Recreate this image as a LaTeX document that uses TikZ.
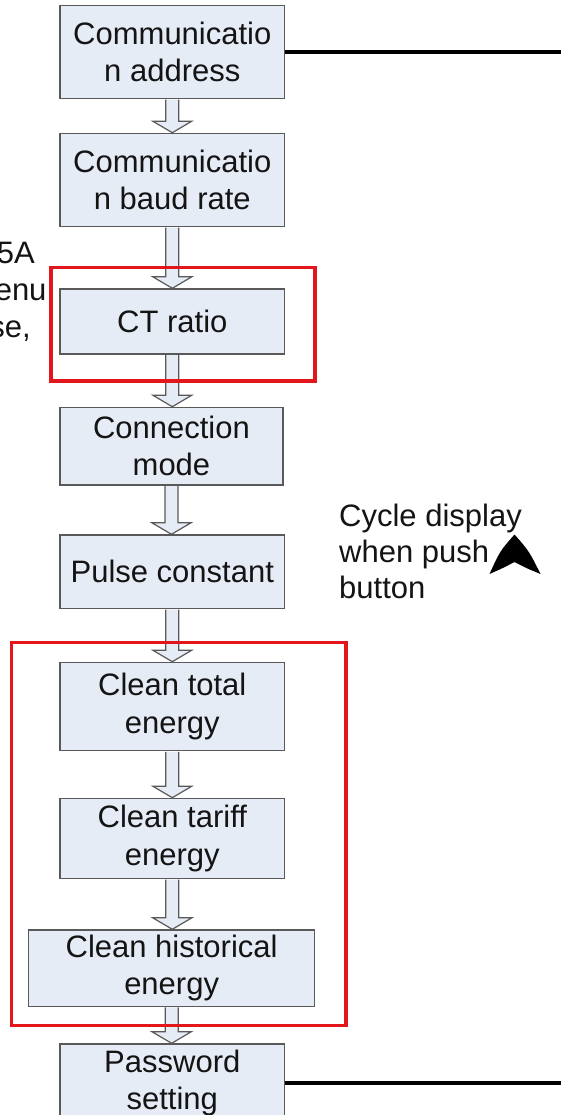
\documentclass[tikz,border=0pt]{standalone}
\usepackage{fontspec}
\setmainfont{Liberation Sans}
\usetikzlibrary{calc}
\definecolor{boxfill}{HTML}{E6ECF6}
\definecolor{boxline}{HTML}{595959}
\definecolor{redline}{HTML}{E3161C}
\definecolor{txt}{HTML}{141414}
\newcommand{\blockarr}[2]{%
  \draw[arrowstyle] let \p1=(#1.south), \p2=(#2.north) in
    (\x1-6.5pt,\y1-0.6pt) -- (\x1-6.5pt,\y2+11.5pt) -- (\x1-19.5pt,\y2+11.5pt)
    -- (\x1,\y2) -- (\x1+19.5pt,\y2+11.5pt) -- (\x1+6.5pt,\y2+11.5pt)
    -- (\x1+6.5pt,\y1-0.6pt);}
\begin{document}
\begin{tikzpicture}[x=1pt,y=-1pt,
  stepbox/.style={draw=boxline, fill=boxfill, line width=1.3pt, anchor=north west,
    inner sep=0pt, align=center, text=txt, font=\fontsize{31}{37.5}\selectfont},
  arrowstyle/.style={draw=boxline, fill=boxfill, line width=1.2pt, line join=miter},
  redbox/.style={draw=redline, line width=3.5pt},
  blackline/.style={draw=black, line width=3.5pt},
  plain/.style={inner sep=0pt, text=txt, font=\fontsize{31}{37.5}\selectfont}]
\useasboundingbox (0,0) rectangle (561,1115);
\clip (0,0) rectangle (561,1115);
\fill[white] (0,0) rectangle (561,1115);
\coordinate (rightedge) at (561,0);

\node[stepbox, minimum width=224.7pt, minimum height=92.7pt] (n1) at (59.3,5) {Communicatio\\n address};
\node[stepbox, minimum width=224.7pt, minimum height=93pt] (n2) at (59.3,132.7) {Communicatio\\n baud rate};
\node[stepbox, minimum width=224.7pt, minimum height=65pt] (n3) at (59.3,288.3) {CT ratio};
\node[stepbox, minimum width=223pt, minimum height=77.6pt] (n4) at (59.3,406.7) {Connection\\mode};
\node[stepbox, minimum width=224.7pt, minimum height=73.4pt] (n5) at (59.3,534.3) {Pulse constant};
\node[stepbox, minimum width=224.7pt, minimum height=88.3pt] (n6) at (59.3,661.7) {Clean total\\energy};
\node[stepbox, minimum width=224.7pt, minimum height=80pt] (n7) at (59.3,797.7) {Clean tariff\\energy};
\node[stepbox, minimum width=286pt, minimum height=76.2pt] (n8) at (28,929.3) {Clean historical\\energy};
\node[stepbox, minimum width=224.7pt, minimum height=77.7pt] (n9) at (59.3,1043.3) {Password\\setting};

\blockarr{n1}{n2}
\blockarr{n2}{n3}
\blockarr{n3}{n4}
\blockarr{n4}{n5}
\blockarr{n5}{n6}
\blockarr{n6}{n7}
\blockarr{n7}{n8}
\blockarr{n8}{n9}

\draw[redbox] (50.8,267.7) rectangle (314.8,381);
\draw[redbox] (11.7,642.5) rectangle (346,1025.5);

\draw[blackline] (n1.east) -- (n1.east -| rightedge);
\draw[blackline] (n9.east) -- (n9.east -| rightedge);

\node[plain, anchor=base east] (l1) at (35,263) {5A};
\node[plain, anchor=base east] (l2) at (46.7,300.5) {enu};
\node[plain, anchor=base east] (l3) at (31,337) {se,};

\node[plain, anchor=base west] (c1) at (339,526) {Cycle display};
\node[plain, anchor=base west] (c2) at (339,562) {when push};
\node[plain, anchor=base west] (c3) at (339,598.5) {button};

\fill[black] (514.5,534.5) .. controls (500,551) .. (489.5,574)
  .. controls (503,568) .. (514.5,562)
  .. controls (526,568) .. (540.5,574)
  .. controls (529,551) .. (514.5,534.5) -- cycle;
\end{tikzpicture}
\end{document}
